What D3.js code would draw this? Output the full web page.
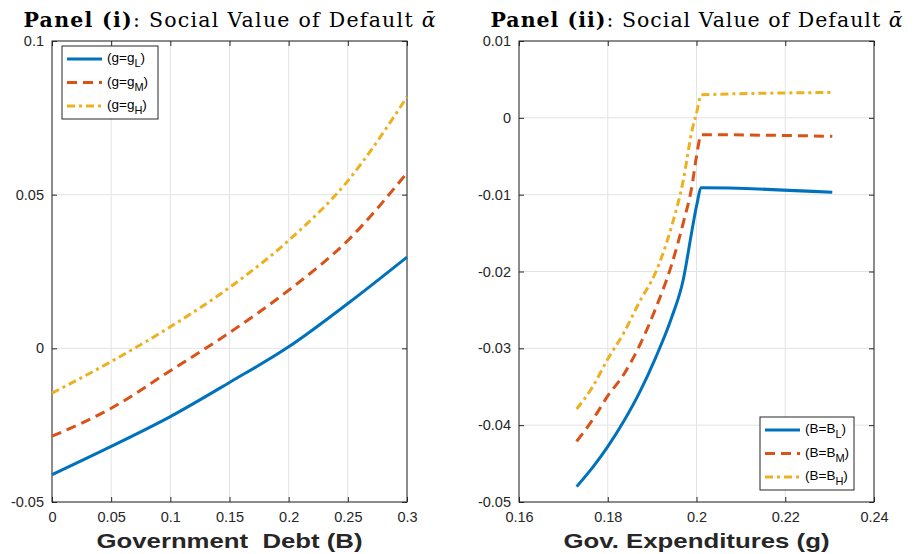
<!DOCTYPE html>
<html>
<head>
<meta charset="utf-8">
<script src="https://cdn.jsdelivr.net/npm/d3@7"></script>
<style>
  body { margin: 0; background: #fff; }
  svg { display: block; }
</style>
</head>
<body>
<svg id="fig" width="914" height="554"></svg>
<script>
// Panel (i): social value of default against government debt B
const debtB = [0, 0.05, 0.1, 0.15, 0.2, 0.25, 0.3];
const alphaGL = [-0.0411, -0.0319, -0.0222, -0.0111, 0.0005, 0.0146, 0.0297];
const alphaGM = [-0.0286, -0.0195, -0.0073, 0.0051, 0.0189, 0.0351, 0.0571];
const alphaGH = [-0.0146, -0.0043, 0.0070, 0.0198, 0.0351, 0.0545, 0.0818];

// Panel (ii): social value of default against gov. expenditures g
const govG = [0.173, 0.1766, 0.180, 0.1836, 0.1872, 0.1908, 0.1944, 0.1970, 0.1990, 0.2000, 0.2011, 0.2306];
const alphaBL = [-0.0480, -0.0455, -0.0428, -0.0395, -0.0357, -0.0312, -0.0260, -0.0211, -0.0146, -0.0115, -0.0091, -0.0097];
const alphaBM = [-0.0421, -0.0393, -0.0362, -0.0334, -0.0296, -0.0248, -0.0191, -0.0137, -0.0088, -0.0050, -0.0022, -0.0024];
const alphaBH = [-0.0379, -0.0350, -0.0314, -0.0280, -0.0239, -0.0201, -0.0141, -0.0082, -0.0016, 0.0006, 0.0030, 0.0033];

const xTicks1 = [0, 0.05, 0.1, 0.15, 0.2, 0.25, 0.3];
const yTicks1 = [-0.05, 0, 0.05, 0.1];
const xTicks2 = [0.16, 0.18, 0.2, 0.22, 0.24];
const yTicks2 = [-0.05, -0.04, -0.03, -0.02, -0.01, 0, 0.01];

const legend1 = ['g', 'L', 'M', 'H'];
const legend2 = ['B', 'L', 'M', 'H'];

const colors = ['#0072BD', '#D95319', '#EDB120'];
const dashes = [null, '10,6', '8,4,3,4'];

const svg = d3.select('#fig');
const fmt = (d) => String(+d.toFixed(4));

function panel(opts) {
	const { left, right, top, bottom, xDomain, yDomain, xTicks, yTicks, xs, ys, title, xLabel, legend, legendBox } = opts;

	const x = d3.scaleLinear().domain(xDomain).range([left, right]);
	const y = d3.scaleLinear().domain(yDomain).range([bottom, top]);

	const g = svg.append('g');

	// grid
	g.append('g')
		.selectAll('line')
		.data(xTicks)
		.join('line')
		.attr('x1', (d) => x(d)).attr('x2', (d) => x(d))
		.attr('y1', top).attr('y2', bottom)
		.attr('stroke', '#e3e3e3').attr('stroke-width', 1);
	g.append('g')
		.selectAll('line')
		.data(yTicks)
		.join('line')
		.attr('y1', (d) => y(d)).attr('y2', (d) => y(d))
		.attr('x1', left).attr('x2', right)
		.attr('stroke', '#e3e3e3').attr('stroke-width', 1);

	// axes, ticks inward on all four sides
	const axStyle = (sel) => {
		sel.select('.domain').remove();
		sel.selectAll('line').attr('stroke', '#262626');
		sel.selectAll('text')
			.attr('fill', '#262626')
			.style('font-family', '"Liberation Sans", Arial, sans-serif')
			.style('font-size', '14.5px');
	};
	g.append('g').attr('transform', `translate(0,${bottom})`)
		.call(d3.axisBottom(x).tickValues(xTicks).tickFormat(fmt).tickSize(-5).tickPadding(10))
		.call(axStyle);
	g.append('g').attr('transform', `translate(0,${top})`)
		.call(d3.axisTop(x).tickValues(xTicks).tickFormat('').tickSize(-5))
		.call(axStyle);
	g.append('g').attr('transform', `translate(${left},0)`)
		.call(d3.axisLeft(y).tickValues(yTicks).tickFormat(fmt).tickSize(-5).tickPadding(8))
		.call(axStyle);
	g.append('g').attr('transform', `translate(${right},0)`)
		.call(d3.axisRight(y).tickValues(yTicks).tickFormat('').tickSize(-5))
		.call(axStyle);

	g.append('rect')
		.attr('x', left).attr('y', top)
		.attr('width', right - left).attr('height', bottom - top)
		.attr('fill', 'none').attr('stroke', '#262626').attr('stroke-width', 1);

	// curves
	const line = d3.line()
		.x((d) => x(d[0]))
		.y((d) => y(d[1]))
		.curve(d3.curveMonotoneX);
	ys.forEach((vals, i) => {
		g.append('path')
			.datum(xs.map((v, j) => [v, vals[j]]))
			.attr('d', line)
			.attr('fill', 'none')
			.attr('stroke', colors[i])
			.attr('stroke-width', 3)
			.attr('stroke-dasharray', dashes[i]);
	});

	// title
	const t = svg.append('text')
		.attr('x', (left + right) / 2)
		.attr('y', 27)
		.attr('text-anchor', 'middle')
		.attr('fill', '#000')
		.attr('textLength', 412)
		.attr('lengthAdjust', 'spacing')
		.style('font-family', '"DejaVu Serif", serif')
		.style('font-size', '20.5px');
	t.append('tspan').attr('font-weight', 'bold').text(title);
	t.append('tspan').text(': Social Value of Default ');
	t.append('tspan').attr('font-style', 'italic').text('\u1FB1');

	// x label
	svg.append('text')
		.attr('x', (left + right) / 2)
		.attr('y', 548)
		.attr('text-anchor', 'middle')
		.attr('fill', '#262626')
		.attr('font-weight', 'bold')
		.attr('textLength', 266)
		.attr('lengthAdjust', 'spacingAndGlyphs')
		.style('font-family', '"Liberation Sans", Arial, sans-serif')
		.style('font-size', '21px')
		.style('white-space', 'pre')
		.text(xLabel);

	// legend
	const lb = legendBox;
	g.append('rect')
		.attr('x', lb.x).attr('y', lb.y)
		.attr('width', lb.w).attr('height', lb.h)
		.attr('fill', '#fff').attr('stroke', '#262626').attr('stroke-width', 1);
	const [v, ...subs] = legend;
	subs.forEach((s, i) => {
		const yy = lb.y + 13 + i * 23.5;
		g.append('line')
			.attr('x1', lb.x + 5).attr('x2', lb.x + 40)
			.attr('y1', yy).attr('y2', yy)
			.attr('stroke', colors[i]).attr('stroke-width', 3)
			.attr('stroke-dasharray', dashes[i]);
		const tx = g.append('text')
			.attr('x', lb.x + 45).attr('y', yy + 3)
			.attr('fill', '#000')
			.style('font-family', '"Liberation Sans", Arial, sans-serif')
			.style('font-size', '13.5px');
		tx.append('tspan').text(`(${v}=${v}`);
		tx.append('tspan').attr('dy', 5).style('font-size', '11px').text(s);
		tx.append('tspan').attr('dy', -5).text(')');
	});
}

panel({
	left: 52, right: 407, top: 41, bottom: 502,
	xDomain: [0, 0.3], yDomain: [-0.05, 0.1],
	xTicks: xTicks1, yTicks: yTicks1,
	xs: debtB, ys: [alphaGL, alphaGM, alphaGH],
	title: 'Panel (i)',
	xLabel: 'Government  Debt (B)',
	legend: legend1,
	legendBox: { x: 62, y: 46, w: 96, h: 73 },
});

panel({
	left: 519, right: 874, top: 41, bottom: 502,
	xDomain: [0.16, 0.24], yDomain: [-0.05, 0.01],
	xTicks: xTicks2, yTicks: yTicks2,
	xs: govG, ys: [alphaBL, alphaBM, alphaBH],
	title: 'Panel (ii)',
	xLabel: 'Gov. Expenditures (g)',
	legend: legend2,
	legendBox: { x: 760, y: 417, w: 94, h: 73 },
});
</script>
</body>
</html>
